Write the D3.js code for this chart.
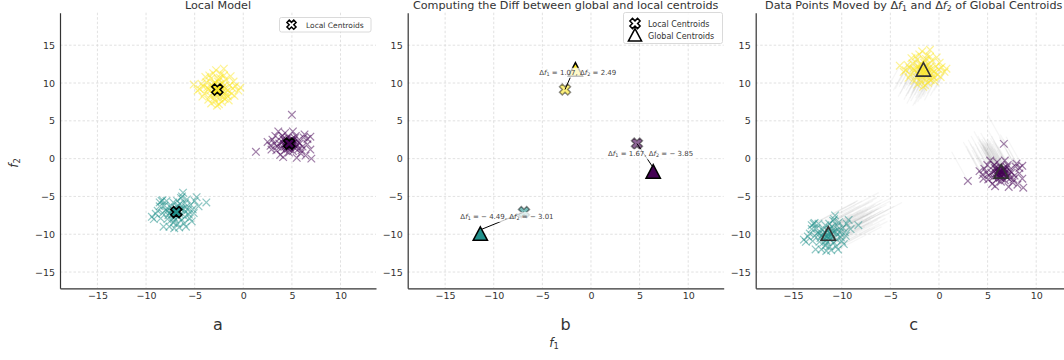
<!DOCTYPE html>
<html>
<head>
<meta charset="utf-8">
<script src="https://cdn.jsdelivr.net/npm/d3@7"></script>
<style>
  body { margin: 0; background: #fff; }
  svg { display: block; font-family: "DejaVu Sans", sans-serif; }
</style>
</head>
<body>
<svg id="chart" width="1064" height="360"></svg>
<script>
// cluster order: purple, teal, yellow
const clusterColors = ['#440154', '#21918c', '#fde725'];
const localCentroids = [[4.73, 1.99], [-6.89, -7.07], [-2.67, 9.14]];
const deltaF1 = [1.67, -4.49, 1.07];
const deltaF2 = [-3.85, -3.01, 2.49];
const labelPositions = [[6.13, 0.66], [-8.64, -7.64], [-1.36, 11.43]];

const purplePoints = [
  [4.7, 2.0], [5.0, 1.7], [4.4, 2.3], [4.9, 2.5], [4.5, 1.5], [5.2, 2.1], [4.2, 1.9], [4.8, 1.2], [5.4, 1.6], [4.1, 2.6],
  [4.6, 2.8], [5.3, 2.7], [3.9, 1.4], [5.6, 2.3], [4.3, 1.1], [5.1, 1.0], [4.0, 2.2], [5.7, 1.3], [4.6, 1.7], [4.9, 2.2],
  [3.6, 3.6], [3.0, 2.5], [2.8, 1.7], [3.4, 1.1], [1.3, 0.9], [5.0, 5.8], [5.1, 3.6], [4.3, 3.4], [6.2, 2.8], [6.9, 2.9],
  [6.9, 1.2], [7.0, 0.0], [6.4, 0.4], [6.6, 1.9], [5.9, 0.7], [3.3, 3.0], [3.8, 0.5], [2.5, 2.2], [4.1, 0.2], [5.5, 0.1],
  [6.1, 1.6], [4.4, 2.6], [4.8, 1.5], [5.2, 2.4], [4.5, 2.0], [3.7, 2.0], [5.8, 2.0], [4.0, 3.0], [3.2, 2.0], [4.7, 0.8],
  [5.4, 3.0], [6.3, 3.2], [3.5, 1.6], [4.9, 1.9], [4.6, 2.3], [5.0, 2.6], [4.3, 1.6], [6.0, 1.1], [6.6, 2.6], [2.9, 1.2],
  [4.8, 2.1], [4.5, 1.8], [5.1, 1.9], [4.7, 1.6], [4.4, 2.0], [5.3, 1.4], [4.2, 2.4], [5.0, 2.3], [4.6, 1.3], [5.5, 1.9]
];
const tealPoints = [
  [-6.9, -7.1], [-7.3, -6.7], [-6.5, -7.4], [-7.1, -7.8], [-6.2, -6.6], [-7.6, -7.2], [-6.7, -6.2], [-7.4, -8.1], [-6.0, -7.7], [-8.0, -6.8],
  [-8.4, -5.6], [-8.6, -6.3], [-9.4, -7.7], [-9.0, -7.3], [-8.2, -9.0], [-7.1, -9.2], [-5.9, -9.0], [-6.2, -4.5], [-6.4, -5.2], [-5.8, -5.4],
  [-4.8, -5.1], [-3.8, -5.8], [-5.2, -6.7], [-5.3, -8.3], [-5.6, -7.4], [-5.4, -6.1], [-6.8, -8.6], [-7.8, -8.0], [-8.5, -7.9], [-6.0, -5.9],
  [-7.2, -5.8], [-7.0, -6.5], [-6.6, -7.0], [-7.5, -6.4], [-6.3, -8.1], [-7.7, -7.5], [-5.9, -6.4], [-6.8, -5.6], [-8.1, -6.2], [-6.1, -8.6],
  [-7.2, -8.5], [-5.5, -7.9], [-6.5, -6.0], [-7.9, -5.6], [-5.1, -7.2], [-8.8, -6.9], [-6.9, -7.5], [-7.4, -7.0], [-6.4, -6.7], [-7.0, -8.1],
  [-6.0, -7.0], [-5.7, -6.8], [-8.3, -7.2], [-7.6, -9.0], [-6.6, -9.1], [-4.6, -6.3], [-5.0, -5.6], [-9.2, -8.0], [-6.3, -5.0], [-7.8, -6.9],
  [-7.0, -7.3], [-6.7, -7.7], [-7.3, -7.4], [-6.8, -6.8], [-8.6, -5.8], [-8.3, -5.5]
];
const yellowPoints = [
  [-2.7, 9.1], [-3.1, 9.6], [-2.2, 8.7], [-2.9, 8.4], [-2.4, 9.8], [-3.4, 9.0], [-1.9, 9.3], [-2.6, 10.2], [-3.0, 8.0], [-2.1, 8.1],
  [-3.7, 9.4], [-1.6, 9.0], [-2.8, 11.7], [-2.3, 11.2], [-3.3, 10.6], [-1.8, 10.5], [-4.0, 8.6], [-1.2, 8.6], [-2.5, 7.2], [-2.9, 7.6],
  [-5.1, 9.8], [-4.3, 9.9], [-0.8, 9.6], [-0.5, 9.0], [-1.0, 10.2], [-3.6, 7.8], [-1.5, 7.7], [-2.0, 11.0], [-3.5, 11.0], [-4.2, 8.2],
  [-2.6, 8.9], [-2.8, 9.4], [-2.3, 9.0], [-3.2, 8.6], [-2.0, 9.6], [-2.5, 8.4], [-3.0, 9.9], [-1.7, 8.4], [-3.8, 10.1], [-1.4, 9.7],
  [-2.7, 7.0], [-2.2, 7.5], [-3.3, 7.3], [-1.9, 7.9], [-4.5, 9.2], [-0.9, 8.3], [-1.3, 10.9], [-3.9, 10.8], [-2.4, 10.7], [-3.1, 11.3],
  [-2.9, 10.0], [-2.1, 10.0], [-3.6, 9.2], [-1.6, 8.2], [-2.4, 8.0], [-3.4, 8.3], [-1.1, 9.3], [-4.1, 9.5], [-2.8, 8.7], [-2.2, 9.4],
  [-3.0, 9.2], [-2.5, 9.6], [-1.8, 8.8], [-3.3, 9.7], [-2.6, 10.5], [-0.3, 9.4], [-4.7, 9.0], [-2.0, 11.9]
];
const clusterPoints = [purplePoints, tealPoints, yellowPoints];

const xTicks = [-15, -10, -5, 0, 5, 10];
const yTicks = [-15, -10, -5, 0, 5, 10, 15];
const panelLetters = ['a', 'b', 'c'];
const panelLefts = [60, 407.7, 755.7];

const svg = d3.select('#chart');
const W = 316, TOP = 12.7, BOTTOM = 288.3;
const y = d3.scaleLinear().domain([-17.15, 19.3]).range([BOTTOM, TOP]);
const axisColor = '#333';
const titleSize = 11.2;

// x-shaped marker (matplotlib 'X')
function bigX(r) {
  const w = r * 0.34;
  return `M${-w},${-r}H${w}V${-w}H${r}V${w}H${w}V${r}H${-w}V${w}H${-r}V${-w}H${-w}Z`;
}
function tri(h) {
  return `M0,${-h * 0.62}L${h * 0.55},${h * 0.42}L${-h * 0.55},${h * 0.42}Z`;
}
function smallX(sel, x, color, op) {
  const s = 3.8;
  sel.append('path')
    .attr('d', d => `M${x(d[0]) - s},${y(d[1]) - s}L${x(d[0]) + s},${y(d[1]) + s}M${x(d[0]) - s},${y(d[1]) + s}L${x(d[0]) + s},${y(d[1]) - s}`)
    .attr('stroke', color).attr('stroke-width', 1.2).attr('stroke-opacity', op).attr('fill', 'none');
}

// text with italic f and subscript: parts = [[text, style]]
function mathText(el, parts, size) {
  parts.forEach(p => {
    const t = el.append('tspan').text(p[0]);
    if (p[1] === 'i') t.attr('font-style', 'italic');
    if (p[1] === 's') t.attr('font-size', size * 0.7).attr('baseline-shift', '-25%');
  });
}

function fmt(v) { return v < 0 ? '\u2212 ' + Math.abs(v).toFixed(2) : v.toFixed(2); }

function makePanel(i) {
  const x = d3.scaleLinear().domain([-18.85, 13.65]).range([panelLefts[i], panelLefts[i] + W]);
  const g = svg.append('g');

  // grid
  g.selectAll('.gx').data(xTicks).enter().append('line')
    .attr('x1', d => x(d)).attr('x2', d => x(d)).attr('y1', TOP).attr('y2', BOTTOM)
    .attr('stroke', '#d9d9d9').attr('stroke-width', 0.8).attr('stroke-dasharray', '2.5,2');
  g.selectAll('.gy').data(yTicks).enter().append('line')
    .attr('x1', x.range()[0]).attr('x2', x.range()[1]).attr('y1', d => y(d)).attr('y2', d => y(d))
    .attr('stroke', '#d9d9d9').attr('stroke-width', 0.8).attr('stroke-dasharray', '2.5,2');

  // axes
  const ax = g.append('g').attr('transform', `translate(0,${BOTTOM})`)
    .call(d3.axisBottom(x).tickValues(xTicks).tickSize(0).tickPadding(4));
  const ay = g.append('g').attr('transform', `translate(${x.range()[0]},0)`)
    .call(d3.axisLeft(y).tickValues(yTicks).tickSize(0).tickPadding(5));
  [ax, ay].forEach(a => {
    a.select('.domain').attr('stroke', axisColor).attr('stroke-width', 1.2);
    a.selectAll('text').attr('font-family', '"DejaVu Sans", sans-serif').attr('font-size', 9.5).attr('fill', '#333');
  });

  const cx = (x.range()[0] + x.range()[1]) / 2;
  g.append('text').attr('x', cx).attr('y', 330).attr('text-anchor', 'middle')
    .attr('font-size', 16).attr('fill', '#333').text(panelLetters[i]);
  return { g, x, cx };
}

// ---- panel a ----
{
  const { g, x, cx } = makePanel(0);
  g.append('text').attr('x', cx).attr('y', 9).attr('text-anchor', 'middle')
    .attr('font-size', titleSize).attr('fill', '#333').text('Local Model');
  clusterPoints.forEach((pts, k) => {
    g.append('g').selectAll('path').data(pts).enter().call(s => smallX(s, x, clusterColors[k], 0.5));
  });
  g.selectAll('.lc').data(localCentroids).enter().append('path')
    .attr('d', bigX(5.8))
    .attr('transform', d => `translate(${x(d[0])},${y(d[1])}) rotate(45)`)
    .attr('fill', (d, k) => clusterColors[k]).attr('stroke', '#000').attr('stroke-width', 1.6);

  // legend
  const lg = g.append('g');
  lg.append('rect').attr('x', 279.5).attr('y', 17.5).attr('width', 91.5).attr('height', 14.5).attr('rx', 2)
    .attr('fill', '#fff').attr('fill-opacity', 0.85).attr('stroke', '#d0d0d0').attr('stroke-width', 0.8);
  lg.append('path').attr('d', bigX(4.8)).attr('transform', 'translate(291.5,24.7) rotate(45)')
    .attr('fill', '#fff').attr('stroke', '#000').attr('stroke-width', 1.5);
  lg.append('text').attr('x', 306).attr('y', 27.5).attr('font-size', 7.5).attr('fill', '#333').text('Local Centroids');
}

// ---- panel b ----
{
  const { g, x, cx } = makePanel(1);
  g.append('text').attr('x', cx).attr('y', 9).attr('text-anchor', 'middle')
    .attr('font-size', titleSize).attr('fill', '#333').text('Computing the Diff between global and local centroids');

  const globals = localCentroids.map((c, k) => [c[0] + deltaF1[k], c[1] + deltaF2[k]]);

  g.selectAll('.lc').data(localCentroids).enter().append('path')
    .attr('d', bigX(5.8))
    .attr('transform', d => `translate(${x(d[0])},${y(d[1])}) rotate(45)`)
    .attr('fill', (d, k) => clusterColors[k]).attr('fill-opacity', 0.6)
    .attr('stroke', '#000').attr('stroke-opacity', 0.45).attr('stroke-width', 1.5);

  // arrows local -> global
  g.selectAll('.arr').data(localCentroids).enter().append('line')
    .attr('x1', d => x(d[0])).attr('y1', d => y(d[1]))
    .attr('x2', (d, k) => x(globals[k][0])).attr('y2', (d, k) => y(globals[k][1]) - 5)
    .attr('stroke', '#000').attr('stroke-width', 1);

  g.selectAll('.gc').data(globals).enter().append('path')
    .attr('d', tri(13))
    .attr('transform', d => `translate(${x(d[0])},${y(d[1])})`)
    .attr('fill', (d, k) => clusterColors[k]).attr('stroke', '#000').attr('stroke-width', 1.5);

  // annotations
  labelPositions.forEach((p, k) => {
    const ag = g.append('g');
    const t = ag.append('text').attr('x', x(p[0])).attr('y', y(p[1]) + 2.5)
      .attr('text-anchor', 'middle').attr('font-size', 7).attr('fill', '#444');
    mathText(t, [['\u0394', ''], ['f', 'i'], ['1', 's'], [' = ' + fmt(deltaF1[k]) + ', \u0394', ''], ['f', 'i'], ['2', 's'], [' = ' + fmt(deltaF2[k]), '']], 7);
    const bb = t.node().getBBox();
    ag.insert('rect', 'text').attr('x', bb.x - 1.5).attr('y', bb.y - 1).attr('width', bb.width + 3).attr('height', bb.height + 2)
      .attr('fill', '#fff').attr('fill-opacity', 0.75);
  });

  // legend
  const lg = g.append('g');
  lg.append('rect').attr('x', 623.5).attr('y', 12.5).attr('width', 99).attr('height', 31).attr('rx', 2)
    .attr('fill', '#fff').attr('fill-opacity', 0.85).attr('stroke', '#d0d0d0').attr('stroke-width', 0.8);
  lg.append('path').attr('d', bigX(5.4)).attr('transform', 'translate(635,23.5) rotate(45)')
    .attr('fill', '#fff').attr('stroke', '#000').attr('stroke-width', 1.5);
  lg.append('path').attr('d', tri(12)).attr('transform', 'translate(635,36)')
    .attr('fill', '#fff').attr('stroke', '#000').attr('stroke-width', 1.5);
  lg.append('text').attr('x', 648).attr('y', 27).attr('font-size', 8).attr('fill', '#333').text('Local Centroids');
  lg.append('text').attr('x', 648).attr('y', 39).attr('font-size', 8).attr('fill', '#333').text('Global Centroids');
}

// ---- panel c ----
{
  const { g, x, cx } = makePanel(2);
  const t = g.append('text').attr('x', cx).attr('y', 9).attr('text-anchor', 'middle')
    .attr('font-size', titleSize).attr('fill', '#333');
  mathText(t, [['Data Points Moved by \u0394', ''], ['f', 'i'], ['1', 's'], [' and \u0394', ''], ['f', 'i'], ['2', 's'], [' of Global Centroids', '']], titleSize);

  clusterPoints.forEach((pts, k) => {
    g.append('g').selectAll('line').data(pts).enter().append('line')
      .attr('x1', d => x(d[0])).attr('y1', d => y(d[1]))
      .attr('x2', d => x(d[0] + deltaF1[k])).attr('y2', d => y(d[1] + deltaF2[k]))
      .attr('stroke', '#999').attr('stroke-opacity', 0.1).attr('stroke-width', 1.2);
  });
  clusterPoints.forEach((pts, k) => {
    const moved = pts.map(d => [d[0] + deltaF1[k], d[1] + deltaF2[k]]);
    g.append('g').selectAll('path').data(moved).enter().call(s => smallX(s, x, clusterColors[k], 0.5));
  });
  const globals = localCentroids.map((c, k) => [c[0] + deltaF1[k], c[1] + deltaF2[k]]);
  g.selectAll('.gc').data(globals).enter().append('path')
    .attr('d', tri(13))
    .attr('transform', d => `translate(${x(d[0])},${y(d[1])})`)
    .attr('fill', (d, k) => clusterColors[k]).attr('fill-opacity', 0.35)
    .attr('stroke', '#333').attr('stroke-width', 1.6);
}

// shared axis labels
const f1 = svg.append('text').attr('x', 554).attr('y', 347).attr('text-anchor', 'middle').attr('font-size', 12).attr('fill', '#333');
mathText(f1, [['f', 'i'], ['1', 's']], 12);
const f2 = svg.append('text').attr('transform', 'translate(18,163) rotate(-90)').attr('text-anchor', 'middle').attr('font-size', 12).attr('fill', '#333');
mathText(f2, [['f', 'i'], ['2', 's']], 12);
</script>
</body>
</html>
